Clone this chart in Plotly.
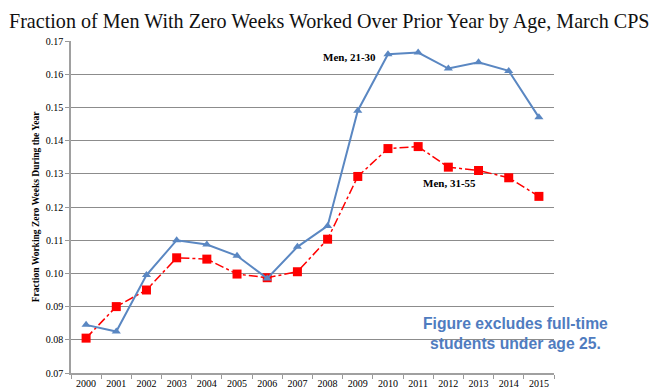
import plotly.graph_objects as go

years = [str(y) for y in range(2000, 2016)]
men_21_30 = [0.0845, 0.0825, 0.0995, 0.1100, 0.1087, 0.1053, 0.0985, 0.1080, 0.1143,
             0.1490, 0.1660, 0.1665, 0.1617, 0.1636, 0.1610, 0.1470]
men_31_55 = [0.0805, 0.0900, 0.0950, 0.1047, 0.1043, 0.0998, 0.0987, 0.1005, 0.1103,
             0.1292, 0.1376, 0.1382, 0.1320, 0.1310, 0.1288, 0.1232]

# page body has an 8px margin, so the figure is drawn 8px smaller
W, H = 660, 384
L, R, T, B = 63, 114, 33, 19
PW, PH = W - L - R, H - T - B


def px(x):
    return (x - L) / PW


def py(y):
    return (H - B - y) / PH


fig = go.Figure()
fig.add_trace(go.Scatter(
    x=years, y=men_31_55, mode="lines+markers", name="Men, 31-55",
    line=dict(color="#FF0000", width=1.5, dash="dashdot"),
    marker=dict(symbol="square", size=9, color="#FF0000"),
))
fig.add_trace(go.Scatter(
    x=years, y=men_21_30, mode="lines+markers", name="Men, 21-30",
    line=dict(color="#5A87C2", width=2),
    marker=dict(symbol="triangle-up", size=8, color="#5A87C2"),
))

fig.update_layout(
    width=W, height=H,
    margin=dict(l=L, r=R, t=T, b=B, autoexpand=False),
    paper_bgcolor="white", plot_bgcolor="white",
    showlegend=False,
    font=dict(family="Liberation Serif", size=10, color="#000000"),
)
fig.update_xaxes(
    type="category", tickson="boundaries", ticks="outside", ticklen=4,
    tickcolor="#999999", showline=True, linecolor="#A0A0A0", linewidth=1.5,
    showgrid=False, tickfont=dict(size=10, family="Liberation Serif"),
    range=[-0.5, 15.5], automargin=False,
)
fig.update_yaxes(
    range=[0.07, 0.17], dtick=0.01, tickformat=".2f", ticks="outside", ticklen=4,
    tickcolor="#999999", showline=True, linecolor="#A0A0A0", linewidth=1.5,
    showgrid=True, gridcolor="#8C8C8C", gridwidth=1, zeroline=False,
    tickfont=dict(size=10, family="Liberation Serif"), automargin=False,
    title=dict(text="<b>Fraction Working Zero Weeks During the Year</b>",
               font=dict(size=9.5, family="Liberation Serif"), standoff=4),
)

fig.add_annotation(
    text="Fraction of Men With Zero Weeks Worked Over Prior Year by Age, March CPS",
    xref="paper", yref="paper", x=px(0), y=py(1),
    xanchor="left", yanchor="top", showarrow=False, borderpad=0,
    font=dict(family="Liberation Serif", size=20.1, color="#111111"),
)
fig.add_annotation(x=9, y=0.1655, xref="x", yref="y", text="<b>Men, 21-30</b>",
                   showarrow=False, xanchor="center", xshift=-8, yshift=-1,
                   font=dict(size=11, family="Liberation Serif", color="#000000"))
fig.add_annotation(x=12, y=0.1255, xref="x", yref="y", text="<b>Men, 31-55</b>",
                   showarrow=False, xanchor="center", xshift=1, yshift=6,
                   font=dict(size=11, family="Liberation Serif", color="#000000"))
fig.add_annotation(
    text="<b>Figure excludes full-time<br>students under age 25.</b>",
    xref="paper", yref="paper", x=px(507), y=py(325),
    xanchor="center", yanchor="middle", showarrow=False, align="center",
    font=dict(family="Liberation Sans", size=15.7, color="#4F7CC0"),
)

fig.write_html("out.html")
